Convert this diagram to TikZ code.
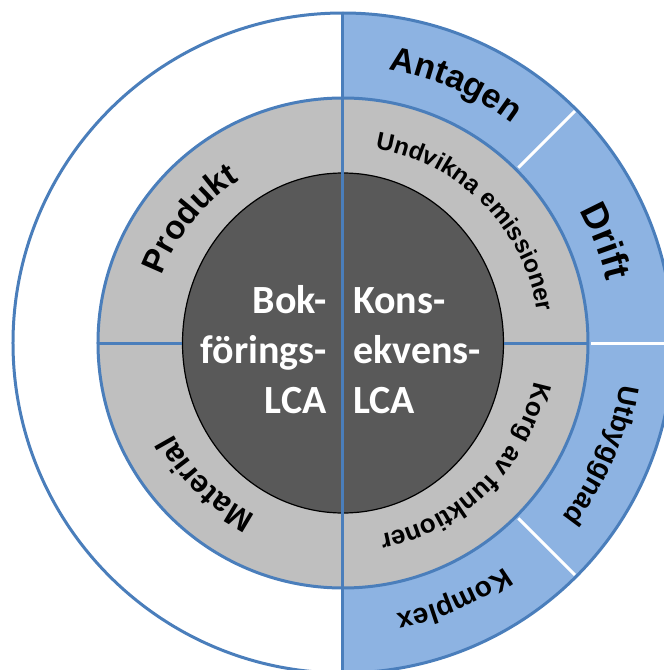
\documentclass[tikz,border=0pt]{standalone}
\usepackage{fontspec}
\newfontfamily\ringfont{Liberation Sans}
\newfontfamily\corefont{Carlito}
\usetikzlibrary{decorations.text}
\definecolor{lineblue}{HTML}{4A7EBB}
\definecolor{ringblue}{HTML}{8DB3E2}
\definecolor{ringgray}{HTML}{BFBFBF}
\definecolor{coredark}{HTML}{595959}
\begin{document}
\begin{tikzpicture}[x=1pt,y=1pt,
    ring/.style={line width=3pt,draw=lineblue},
    cut/.style={line width=3pt,draw=white},
    core/.style={font=\corefont\bfseries\fontsize{40}{50}\selectfont,text=white,inner sep=0pt},
    arctext/.style 2 args={decorate,decoration={text along path,text align=center,
      text={|\ringfont\bfseries\fontsize{#1}{#1}\selectfont|#2}}}]
  \clip (-343,-327) rectangle (321,343);
  \fill[white] (-343,-327) rectangle (321,343);
  % outer ring, right half blue
  \fill[white] (0,0) circle[radius=330];
  \fill[ringblue] (90:330) arc[start angle=90,end angle=-90,radius=330]
    -- (-90:245) arc[start angle=-90,end angle=90,radius=245] -- cycle;
  \draw[ring] (0,0) circle[radius=330];
  % middle ring
  \filldraw[ring,fill=ringgray] (0,0) circle[radius=245];
  % core
  \filldraw[fill=coredark,draw=black,line width=1.2pt] (0,0) ellipse[x radius=160.5,y radius=170];
  % dividers
  \coordinate (top) at (90:330);
  \coordinate (bottom) at (-90:330);
  \coordinate (midleft) at (180:245);
  \coordinate (coreleft) at (180:160.5);
  \coordinate (coreright) at (0:160.5);
  \coordinate (midright) at (0:245);
  \draw[ring] (top) -- (bottom);
  \draw[ring] (midleft) -- (coreleft);
  \draw[ring] (coreright) -- (midright);
  \draw[cut] (45:248) -- (45:328);
  \draw[cut] (0:248) -- (0:340);
  \draw[cut] (-45:248) -- (-45:328);
  % core labels
  \node[core,align=right,anchor=base east] (bok) at (-16,-70) {Bok-\\förings-\\LCA};
  \node[core,align=left,anchor=base west] (kons) at (10,-70) {Kons-\\ekvens-\\LCA};
  % ring labels
  \path[arctext={33}{Produkt}] (181:193) arc[start angle=181,end angle=101,radius=193];
  \path[arctext={31}{Material}] (265.6:193) arc[start angle=265.6,end angle=185.6,radius=193];
  \path[arctext={24.5}{Undvikna emissioner}] (104.8:197) arc[start angle=104.8,end angle=-15.2,radius=197];
  \path[arctext={26}{Korg av funktioner}] (14.8:195) arc[start angle=14.8,end angle=-105.2,radius=195];
  \path[arctext={34}{Antagen}] (106.5:277) arc[start angle=106.5,end angle=26.5,radius=277];
  \path[arctext={37}{Drift}] (61.2:271) arc[start angle=61.2,end angle=-18.8,radius=271];
  \path[arctext={28}{Utbyggnad}] (16.5:280) arc[start angle=16.5,end angle=-63.5,radius=280];
  \path[arctext={28}{Komplex}] (-26.5:276) arc[start angle=-26.5,end angle=-106.5,radius=276];
\end{tikzpicture}
\end{document}
